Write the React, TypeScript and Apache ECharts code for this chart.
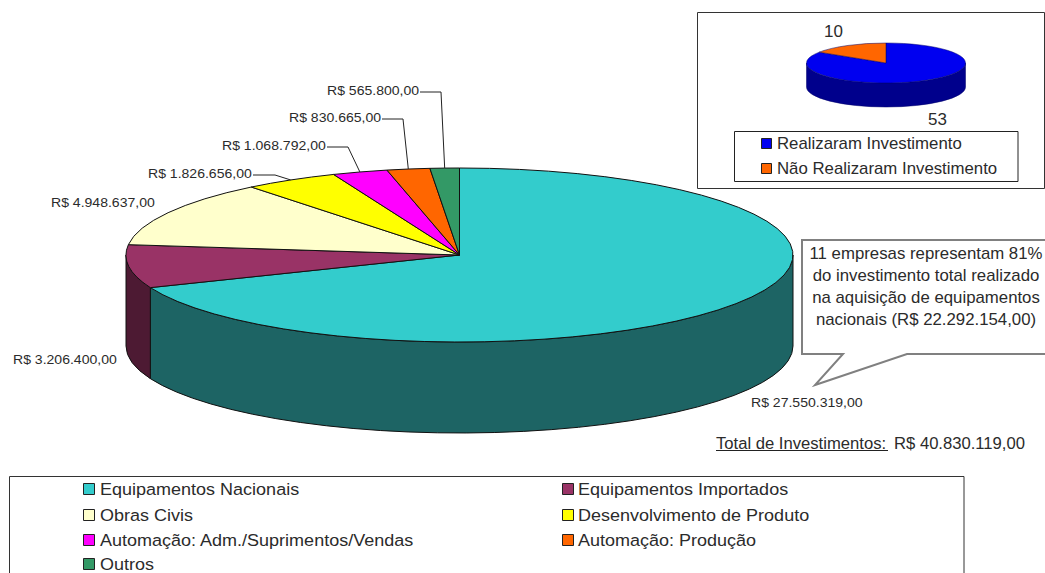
import React, { useEffect, useRef } from "react";
import * as echarts from "echarts";

// ---- data ----
const investmentCategories = [
  "Equipamentos Nacionais",
  "Equipamentos Importados",
  "Obras Civis",
  "Desenvolvimento de Produto",
  "Automação: Adm./Suprimentos/Vendas",
  "Automação: Produção",
  "Outros",
];
const investmentValues = [27550319, 3206400, 4948637, 1826656, 1068792, 830665, 565800];
const investmentTotalLabel = "R$ 40.830.119,00";
const investmentColors = ["#33CCCC", "#993366", "#FFFFCC", "#FFFF00", "#FF00FF", "#FF6600", "#339966"];
const investmentSideColors = ["#1D6464", "#4D1A33", "#80805F", "#808000", "#800080", "#803300", "#1A4D33"];

const insetCategories = ["Realizaram Investimento", "Não Realizaram Investimento"];
const insetValues = [53, 10];
const insetColors = ["#0000F0", "#FF6600"];
const insetSideColors = ["#00008C", "#803300"];

const calloutLines = [
  "11 empresas representam 81%",
  "do investimento total realizado",
  "na aquisição de equipamentos",
  "nacionais (R$ 22.292.154,00)",
];

// ---- layout ----
const W = 1045;
const H = 573;
const FONT = '"Liberation Sans", Arial, sans-serif';
const INK = "#2b2b2b";
const mainPie = { cx: 459.5, cy: 255, rx: 333.5, ry: 87, depth: 91 };
const insetPie = { cx: 886, cy: 63, rx: 79.5, ry: 20, depth: 24 };
const mainLabelPos = [
  [751, 403],
  [13, 360],
  [51, 203],
  [148, 174],
  [222, 146],
  [289, 118],
  [327, 91],
];
const mainLeaderElbow: (number[][] | null)[] = [
  null,
  null,
  null,
  [[253, 175], [275, 175]],
  [[327, 147], [348, 147]],
  [[382, 119], [403, 119]],
  [[420, 92], [441, 92]],
];
const insetLabelPos = [
  [928, 119],
  [824, 31],
];

const brl = (v: number) => "R$ " + v.toLocaleString("de-DE") + ",00";

function txt(text: string, x: number, y: number, size: number, scaleX: number, align = "left", z = 5) {
  return {
    type: "text",
    x,
    y,
    scaleX,
    z,
    silent: true,
    style: { text, x: 0, y: 0, fill: INK, font: `${size}px ${FONT}`, align, verticalAlign: "middle" },
  };
}

function sq(x: number, y: number, size: number, fill: string) {
  return { type: "rect", z: 4, silent: true, shape: { x: x + 0.5, y: y + 0.5, width: size, height: size }, style: { fill, stroke: "#222", lineWidth: 1 } };
}

type Pie = typeof mainPie;
const pt = (p: Pie, deg: number, dy = 0) => {
  const a = (deg * Math.PI) / 180;
  return [p.cx + p.rx * Math.sin(a), p.cy - p.ry * Math.cos(a) + dy];
};
const arcTo = (p: Pie, from: number, to: number, dy: number) => {
  const [x, y] = pt(p, to, dy);
  const large = Math.abs(to - from) > 180 ? 1 : 0;
  const sweep = to > from ? 1 : 0;
  return `A${p.rx} ${p.ry} 0 ${large} ${sweep} ${x} ${y}`;
};

function renderSlice(
  p: Pie,
  values: number[],
  colors: string[],
  sides: string[],
  stroke: string,
  lineWidth: number,
  extra?: (i: number, mid: number) => any[]
) {
  const total = values.reduce((s, v) => s + v, 0);
  return (params: any) => {
    const i = params.dataIndex;
    const before = values.slice(0, i).reduce((s, v) => s + v, 0);
    const a0 = (before / total) * 360;
    const a1 = ((before + values[i]) / total) * 360;
    const children: any[] = [];
    const w0 = Math.max(a0, 90);
    const w1 = Math.min(a1, 270);
    if (w1 > w0) {
      const s = pt(p, w0);
      const d =
        `M${s[0]} ${s[1]}` +
        arcTo(p, w0, w1, 0) +
        `L${pt(p, w1, p.depth).join(" ")}` +
        arcTo(p, w1, w0, p.depth) +
        "Z";
      children.push({ type: "path", shape: { pathData: d }, style: { fill: sides[i], stroke, lineWidth } });
    }
    const s = pt(p, a0);
    const top = `M${p.cx} ${p.cy}L${s[0]} ${s[1]}` + arcTo(p, a0, a1, 0) + "Z";
    children.push({ type: "path", shape: { pathData: top }, style: { fill: colors[i], stroke, lineWidth } });
    if (extra) children.push(...extra(i, (a0 + a1) / 2));
    return { type: "group", children };
  };
}

export default function App() {
  const ref = useRef<HTMLDivElement>(null);
  useEffect(() => {
    const chart = echarts.init(ref.current!, undefined, { renderer: "svg", width: W, height: H });
    const mainExtra = (i: number, mid: number) => {
      const out: any[] = [
        txt(brl(investmentValues[i]), mainLabelPos[i][0], mainLabelPos[i][1], 13.5, 1.04),
      ];
      const elbow = mainLeaderElbow[i];
      if (elbow) {
        out.push({
          type: "polyline",
          shape: { points: [...elbow, pt(mainPie, mid)] },
          style: { fill: "none", stroke: "#222", lineWidth: 1 },
        });
      }
      return out;
    };
    const insetExtra = (i: number) => [txt(String(insetValues[i]), insetLabelPos[i][0], insetLabelPos[i][1], 16, 1.06)];

    const legendCols = [
      [83, 100],
      [562, 578],
    ];
    const legendRows = [489, 515, 540, 564];
    const legendEls: any[] = [];
    investmentCategories.forEach((name, i) => {
      const col = legendCols[i % 2];
      const y = legendRows[Math.floor(i / 2)];
      legendEls.push(sq(col[0], y - 6, 11, investmentColors[i]));
      legendEls.push(txt(name, col[1], y, 17, 1.06));
    });
    const insetLegendRows = [143, 168];
    insetCategories.forEach((name, i) => {
      legendEls.push(sq(761, insetLegendRows[i] - 5, 10, insetColors[i]));
      legendEls.push(txt(name, 777, insetLegendRows[i], 16, 1.05));
    });
    const calloutRows = [253, 275, 297, 319];

    chart.setOption({
      animation: false,
      backgroundColor: "#fff",
      graphic: {
        elements: [
          { type: "rect", z: 1, silent: true, shape: { x: 9.5, y: 476.5, width: 954.5, height: 110 }, style: { fill: "#fff", stroke: "#333", lineWidth: 1 } },
          { type: "rect", z: 1, silent: true, shape: { x: 697.5, y: 12.5, width: 347, height: 176 }, style: { fill: "#fff", stroke: "#333", lineWidth: 1 } },
          { type: "rect", z: 1, silent: true, shape: { x: 734.5, y: 131.5, width: 283.5, height: 50 }, style: { fill: "#fff", stroke: "#222", lineWidth: 1 } },
          {
            type: "polygon",
            z: 1,
            silent: true,
            shape: { points: [[802, 240], [1050, 240], [1050, 354], [907, 354], [815, 385], [843, 354], [802, 354]] },
            style: { fill: "#fff", stroke: "#808080", lineWidth: 2 },
          },
          ...calloutLines.map((t, i) => txt(t, 926, calloutRows[i], 16, 1.05, "center")),
          txt("Total de Investimentos:", 716, 443, 16, 1.04),
          { type: "line", z: 5, silent: true, shape: { x1: 716, y1: 450.5, x2: 888, y2: 450.5 }, style: { stroke: "#222", lineWidth: 1 } },
          txt(investmentTotalLabel, 894, 443, 16, 1.04),
          ...legendEls,
        ],
      },
      series: [
        {
          type: "custom",
          coordinateSystem: "none",
          silent: true,
          data: investmentValues,
          renderItem: renderSlice(mainPie, investmentValues, investmentColors, investmentSideColors, "#111", 1, mainExtra),
        },
        {
          type: "custom",
          coordinateSystem: "none",
          silent: true,
          data: insetValues,
          renderItem: renderSlice(insetPie, insetValues, insetColors, insetSideColors, "#00006a", 0.5, insetExtra),
        },
      ],
    });
    return () => chart.dispose();
  }, []);
  return <div ref={ref} style={{ position: "absolute", left: 0, top: 0, width: W, height: H, overflow: "hidden" }} />;
}
